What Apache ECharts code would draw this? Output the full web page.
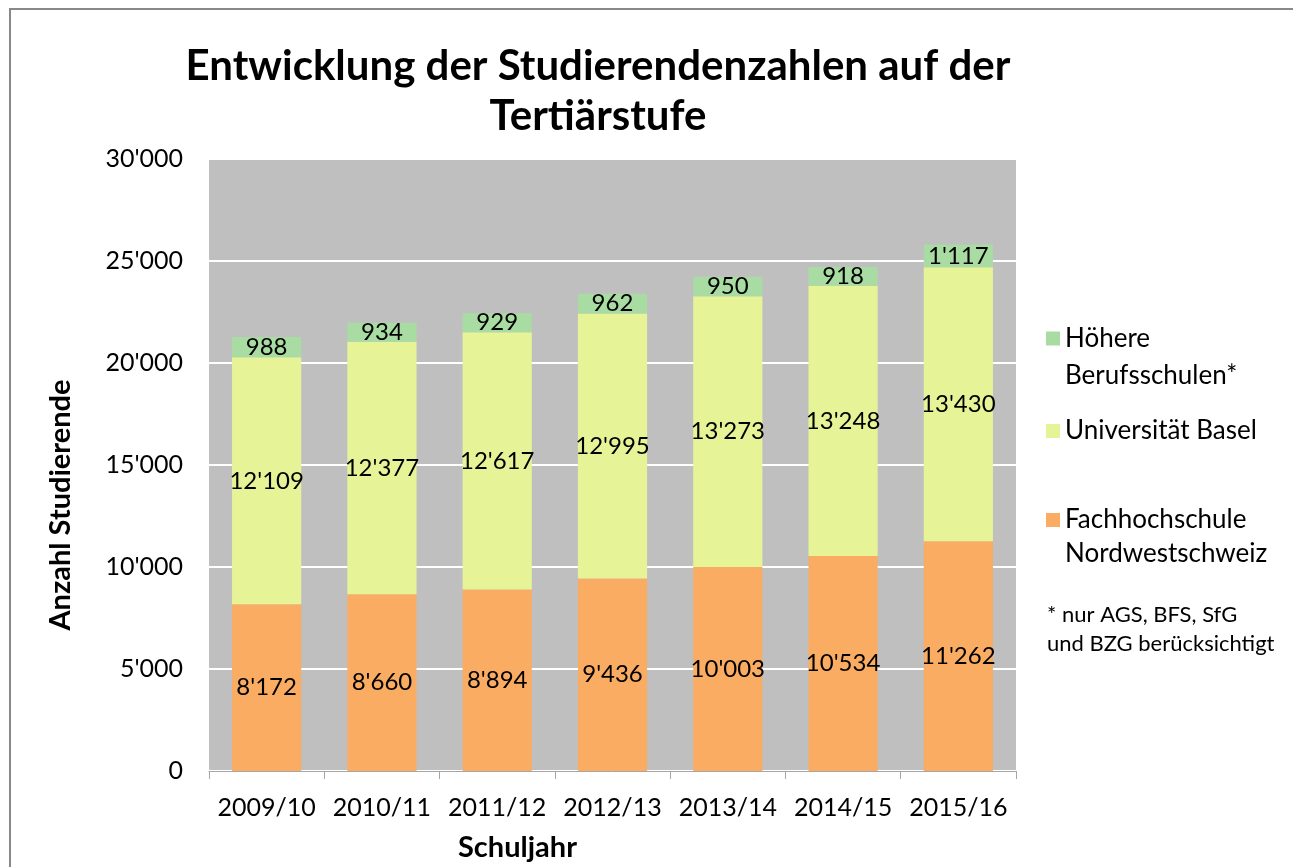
<!DOCTYPE html>
<html><head><meta charset="utf-8">
<script src="https://cdn.jsdelivr.net/npm/echarts@6/dist/echarts.min.js"></script>
<style>html,body{margin:0;padding:0;background:#fff}#c{width:1293px;height:867px}</style>
</head><body><div id="c"></div>
<script>
const categories = ['2009/10','2010/11','2011/12','2012/13','2013/14','2014/15','2015/16'];
const fhnw = [8172, 8660, 8894, 9436, 10003, 10534, 11262];
const unibas = [12109, 12377, 12617, 12995, 13273, 13248, 13430];
const hbs = [988, 934, 929, 962, 950, 918, 1117];
const seriesNames = ['Fachhochschule Nordwestschweiz', 'Universität Basel', 'Höhere Berufsschulen*'];
const legendLabels = ['Fachhochschule\nNordwestschweiz', 'Universität Basel', 'Höhere\nBerufsschulen*'];
const titleText = 'Entwicklung der Studierendenzahlen auf der\nTertiärstufe';
const footnote = '* nur AGS, BFS, SfG\nund BZG berücksichtigt';

const FONT = 'Lato';
function fmt(v){ return String(Math.round(v)).replace(/\B(?=(\d{3})+(?!\d))/g, "'"); }

const chart = echarts.init(document.getElementById('c'));
const colors = ['#FAAC62', '#E6F497', '#A9DCA2'];
const dataArr = [fhnw, unibas, hbs];

// legend icon: 14px square at top, with an invisible zero-area segment setting the icon box height
function topSquare(h){ return 'path://M0 0H14V14H0Z M0 ' + h + 'H14'; }

function legendItem(idx, top, lineH){
  const two = legendLabels[idx].indexOf('\n') >= 0;
  const h = two ? 14 + lineH : 14;
  return {
    data: [seriesNames[idx]], left: 1041, top: top, itemWidth: 14, itemHeight: h,
    icon: two ? topSquare(h) : 'rect',
    itemStyle: { borderWidth: 0 },
    formatter: () => legendLabels[idx],
    textStyle: { fontFamily: FONT, fontSize: 26, color: '#000', lineHeight: lineH }
  };
}

chart.setOption({
  animation: false,
  backgroundColor: '#fff',
  textStyle: { fontFamily: FONT },
  title: {
    text: titleText, left: 593, top: 36, textAlign: 'center',
    textStyle: { fontFamily: FONT, fontWeight: 'bold', fontSize: 42, color: '#000', lineHeight: 50 }
  },
  grid: { left: 209, right: 277, top: 159, bottom: 96, backgroundColor: '#BFBFBF', show: true, borderWidth: 0 },
  legend: [
    legendItem(2, 315, 37),
    legendItem(1, 408, 36),
    legendItem(0, 498, 34)
  ],
  graphic: [
    { type: 'rect', shape: { x: 10, y: 9, width: 1400, height: 1000 }, style: { fill: 'none', stroke: '#888', lineWidth: 2 }, silent: true },
    { type: 'text', left: 1047, top: 600, style: { text: footnote, font: '22px ' + FONT, fill: '#000', lineHeight: 29 } }
  ],
  xAxis: {
    type: 'category', data: categories,
    name: 'Schuljahr', nameLocation: 'middle', nameGap: 62,
    nameTextStyle: { fontFamily: FONT, fontWeight: 'bold', fontSize: 29, color: '#000', padding: [0, 190, 0, 0] },
    axisLine: { show: true, lineStyle: { color: '#A6A6A6', width: 1 } },
    axisTick: { show: true, length: 8, lineStyle: { color: '#A6A6A6' } },
    axisLabel: { interval: 0, fontFamily: FONT, fontSize: 25, color: '#000', margin: 24 }
  },
  yAxis: {
    type: 'value', min: 0, max: 30000, interval: 5000,
    name: 'Anzahl Studierende', nameLocation: 'middle', nameGap: 134,
    nameTextStyle: { fontFamily: FONT, fontWeight: 'bold', fontSize: 29, color: '#000', padding: [0, 80, 0, 0] },
    axisLine: { show: false }, axisTick: { show: false },
    axisLabel: { fontFamily: FONT, fontSize: 25, color: '#000', margin: 26, formatter: v => fmt(v) },
    splitLine: { lineStyle: { color: '#FFFFFF', width: 2 } }
  },
  series: dataArr.map((d, i) => ({
    name: seriesNames[i], type: 'bar', stack: 'total', data: d, barWidth: '60%',
    itemStyle: { color: colors[i] },
    label: { show: true, position: 'inside', fontFamily: FONT, fontSize: 24, color: '#000', formatter: p => fmt(p.value) }
  }))
});
</script></body></html>
